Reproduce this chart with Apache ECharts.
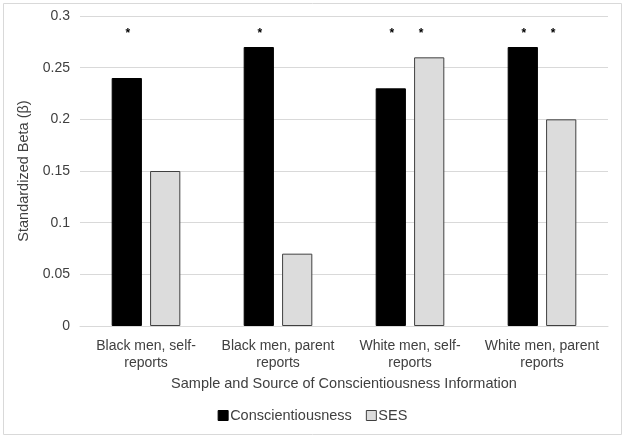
<!DOCTYPE html>
<html><head><meta charset="utf-8">
<script src="https://cdn.jsdelivr.net/npm/echarts@6/dist/echarts.min.js"></script>
<style>html,body{margin:0;padding:0;background:#fff}#c{width:625px;height:438px}</style>
</head><body><div id="c"></div>
<script>
const categories = ['Black men, self-\nreports', 'Black men, parent\nreports', 'White men, self-\nreports', 'White men, parent\nreports'];
const conscientiousness = [0.24, 0.27, 0.23, 0.27];
const ses = [0.15, 0.07, 0.26, 0.20];
const sigConsc = [true, true, true, true];
const sigSes = [false, false, true, true];
const yTicks = [0, 0.05, 0.1, 0.15, 0.2, 0.25, 0.3];
const starLevel = 0.283;

const font = 'Liberation Sans, Arial, sans-serif';
const txt = '#404040';
const chart = echarts.init(document.getElementById('c'));
const barOpts = {barGap: '27%', barCategoryGap: '48%'};
const starLabel = (dx) => ({show: true, position: 'insideTop', formatter: '*', fontSize: 12, fontWeight: 'bold', color: '#000', offset: [dx, -11]});
chart.setOption({
  animation: false,
  textStyle: {fontFamily: font},
  graphic: [{type: 'rect', shape: {x: 3.5, y: 3.5, width: 618, height: 431}, style: {fill: 'none', stroke: '#d9d9d9', lineWidth: 1}}],
  legend: {left: 'center', top: 403, itemWidth: 10, itemHeight: 10, itemGap: 14, icon: 'rect',
    textStyle: {fontSize: 14.5, color: txt, fontFamily: font, padding: [0, 0, 0, -3]},
    data: [{name: 'Conscientiousness', itemStyle: {color: '#000', borderColor: '#000', borderWidth: 1}},
           {name: 'SES', itemStyle: {color: '#dcdcdc', borderColor: '#404040', borderWidth: 1}}]},
  grid: {left: 80, right: 17, top: 16, bottom: 112},
  xAxis: [{type: 'category', data: categories,
    name: 'Sample and Source of Conscientiousness Information', nameLocation: 'middle', nameGap: 49,
    nameTextStyle: {fontSize: 14.5, color: txt},
    axisLine: {lineStyle: {color: '#d9d9d9'}}, axisTick: {show: false},
    axisLabel: {fontSize: 14, color: txt, margin: 12, lineHeight: 17, interval: 0}},
    {type: 'category', data: categories, show: false}],
  yAxis: {type: 'value', min: 0, max: 0.3, interval: 0.05,
    name: 'Standardized Beta (β)', nameLocation: 'middle', nameGap: 42, nameRotate: 90,
    nameTextStyle: {fontSize: 14.5, color: txt},
    axisLabel: {fontSize: 14, color: txt, margin: 10, formatter: v => String(+v.toFixed(2))},
    splitLine: {lineStyle: {color: '#d9d9d9'}}, axisLine: {show: false}, axisTick: {show: false}},
  series: [
    Object.assign({name: 'Conscientiousness', type: 'bar', data: conscientiousness,
      itemStyle: {color: '#000', borderColor: '#000', borderWidth: 1}}, barOpts),
    Object.assign({name: 'SES', type: 'bar', data: ses,
      itemStyle: {color: '#dcdcdc', borderColor: '#404040', borderWidth: 1}}, barOpts),
    Object.assign({type: 'bar', xAxisIndex: 1, silent: true, data: sigConsc.map(s => s ? starLevel : null),
      itemStyle: {color: 'rgba(0,0,0,0)'}, label: starLabel(1)}, barOpts),
    Object.assign({type: 'bar', xAxisIndex: 1, silent: true, data: sigSes.map(s => s ? starLevel : null),
      itemStyle: {color: 'rgba(0,0,0,0)'}, label: starLabel(-8)}, barOpts)
  ]
});
</script></body></html>
